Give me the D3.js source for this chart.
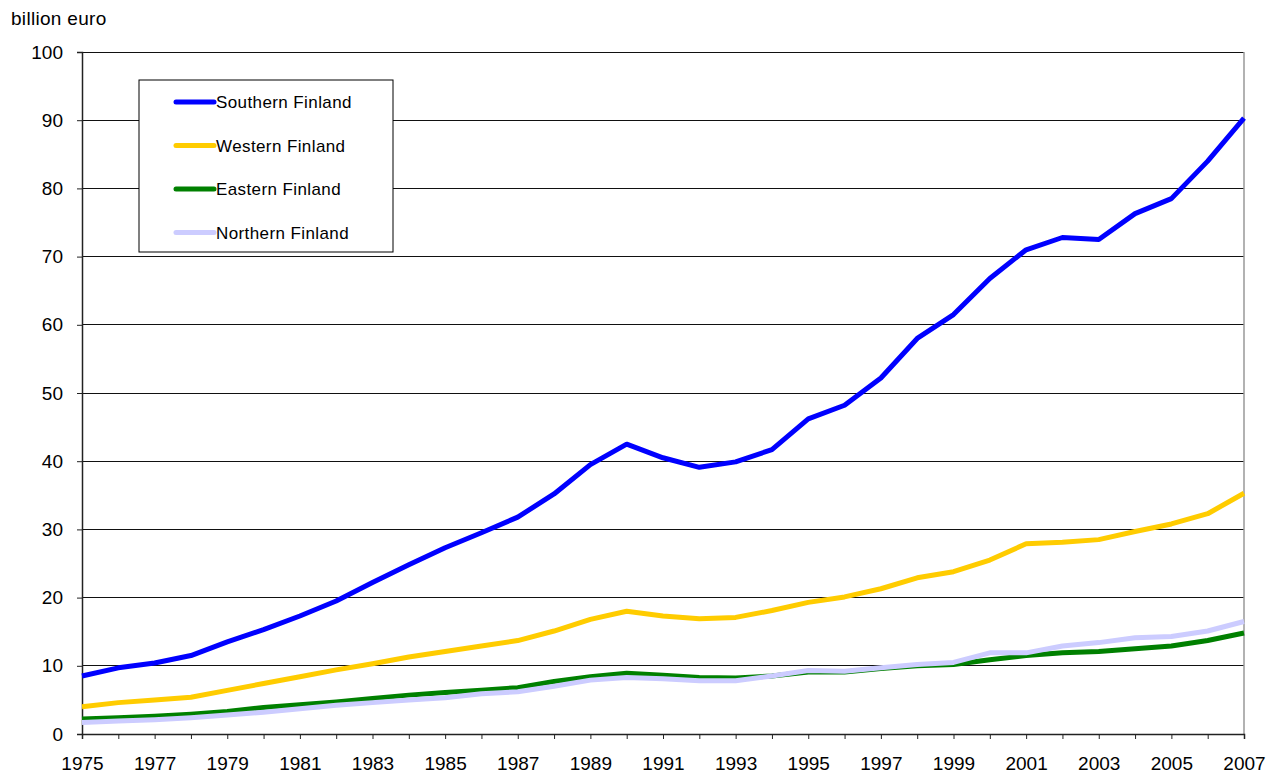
<!DOCTYPE html>
<html>
<head>
<meta charset="utf-8">
<script src="https://cdn.jsdelivr.net/npm/d3@7"></script>
<style>
  body { margin: 0; background: #fff; }
  svg text { font-family: "Liberation Sans", Arial, sans-serif; fill: #000; }
</style>
</head>
<body>
<svg id="chart" width="1276" height="775"></svg>
<script>
// data (billion euro)
const years = d3.range(1975, 2008);
const southern = [8.5, 9.7, 10.4, 11.5, 13.5, 15.3, 17.3, 19.5, 22.2, 24.8, 27.3, 29.5, 31.8, 35.2, 39.5, 42.5, 40.5, 39.1, 39.9, 41.7, 46.2, 48.2, 52.2, 58.0, 61.5, 66.8, 71.0, 72.8, 72.5, 76.3, 78.5, 84.0, 90.3];
const western = [4.0, 4.6, 5.0, 5.4, 6.4, 7.4, 8.4, 9.4, 10.3, 11.3, 12.1, 12.9, 13.7, 15.1, 16.8, 18.0, 17.3, 16.9, 17.1, 18.1, 19.3, 20.1, 21.3, 22.9, 23.8, 25.5, 27.9, 28.1, 28.5, 29.7, 30.8, 32.3, 35.3];
const eastern = [2.2, 2.4, 2.6, 2.9, 3.3, 3.9, 4.3, 4.7, 5.2, 5.7, 6.1, 6.4, 6.8, 7.7, 8.4, 8.9, 8.6, 8.3, 8.2, 8.5, 9.1, 9.1, 9.6, 10.0, 10.2, 10.9, 11.5, 11.9, 12.1, 12.5, 12.9, 13.7, 14.8];
const northern = [1.7, 1.9, 2.1, 2.4, 2.8, 3.2, 3.7, 4.2, 4.6, 5.0, 5.3, 5.9, 6.2, 7.0, 7.9, 8.3, 8.1, 7.8, 7.8, 8.5, 9.3, 9.2, 9.7, 10.2, 10.5, 11.9, 11.9, 12.9, 13.4, 14.1, 14.3, 15.1, 16.5];
const seriesNames = ["Southern Finland", "Western Finland", "Eastern Finland", "Northern Finland"];
const seriesColors = ["#0000ff", "#ffcc00", "#008000", "#ccccff"];
const yTicks = [0, 10, 20, 30, 40, 50, 60, 70, 80, 90, 100];
const xTickLabels = years.filter(y => y % 2 === 1);

const svg = d3.select("#chart");
const plot = { left: 82, right: 1244, top: 52, bottom: 734 };

const x = d3.scaleLinear().domain([1975, 2007]).range([plot.left, plot.right]);
const y = d3.scaleLinear().domain([0, 100]).range([plot.bottom, plot.top]);

// gridlines
svg.append("g")
    .selectAll("line")
    .data(yTicks.filter(d => d > 0))
    .enter()
    .append("line")
    .attr("x1", plot.left).attr("x2", plot.right)
    .attr("y1", d => y(d)).attr("y2", d => y(d))
    .attr("stroke", "#111").attr("stroke-width", 1)
    .attr("shape-rendering", "crispEdges");

// right border
svg.append("line")
    .attr("x1", plot.right).attr("x2", plot.right)
    .attr("y1", plot.top).attr("y2", plot.bottom)
    .attr("stroke", "#999").attr("stroke-width", 1.5);

// y axis
const yAxis = svg.append("g")
    .attr("transform", `translate(${plot.left},0)`)
    .call(d3.axisLeft(y).tickValues(yTicks).tickSize(5).tickPadding(14));
yAxis.selectAll("text").attr("font-size", 19);

// x axis
const xAxis = svg.append("g")
    .attr("transform", `translate(0,${plot.bottom})`)
    .call(d3.axisBottom(x).tickValues(years).tickSize(5).tickPadding(18)
        .tickFormat(d => xTickLabels.includes(d) ? String(d) : ""));
xAxis.selectAll("text").attr("font-size", 19);

svg.selectAll(".domain").attr("stroke", "#222").attr("stroke-width", 1.5);
svg.selectAll(".tick line").attr("stroke", "#222");

// unit label
svg.append("text")
    .attr("x", 11).attr("y", 25)
    .attr("font-size", 19)
    .attr("letter-spacing", 0.3)
    .text("billion euro");

// lines
const line = d3.line()
    .x((d, i) => x(years[i]))
    .y(d => y(d));

const allSeries = [southern, western, eastern, northern];
svg.append("g")
    .selectAll("path")
    .data(allSeries)
    .enter()
    .append("path")
    .attr("d", line)
    .attr("fill", "none")
    .attr("stroke", (d, i) => seriesColors[i])
    .attr("stroke-width", 5)
    .attr("stroke-linejoin", "round");

// legend
const legend = svg.append("g").attr("transform", "translate(139,80)");
legend.append("rect")
    .attr("width", 254).attr("height", 172)
    .attr("fill", "#fff").attr("stroke", "#000").attr("stroke-width", 1);

const items = legend.selectAll("g.item")
    .data(seriesNames)
    .enter()
    .append("g")
    .attr("class", "item")
    .attr("transform", (d, i) => `translate(0,${22 + i * 43.5})`);

items.append("line")
    .attr("x1", 37).attr("x2", 75)
    .attr("stroke", (d, i) => seriesColors[i])
    .attr("stroke-width", 5)
    .attr("stroke-linecap", "round");

items.append("text")
    .attr("x", 77).attr("y", 6)
    .attr("font-size", 17)
    .attr("letter-spacing", 0.4)
    .text(d => d);
</script>
</body>
</html>
